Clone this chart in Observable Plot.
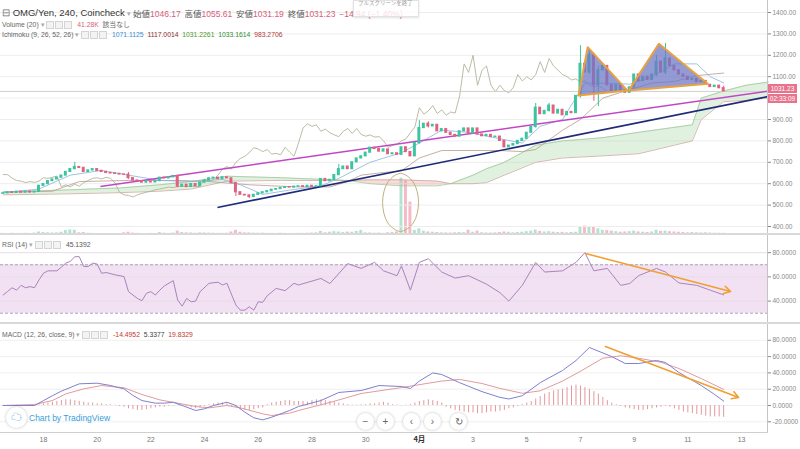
<!DOCTYPE html>
<html><head><meta charset="utf-8">
<script src="https://cdn.jsdelivr.net/npm/d3@7"></script>
<script src="https://cdn.jsdelivr.net/npm/@observablehq/plot@0.6"></script>
<style>
body{margin:0;background:#fff;font-family:"Liberation Sans",Arial,"Noto Sans CJK JP",sans-serif;}
#wrap{position:relative;width:800px;height:449px;overflow:hidden;background:#fff;}
.pane{position:absolute;left:0;}
.t{position:absolute;white-space:nowrap;line-height:1;}
.ib{display:inline-block;width:6px;height:6px;border:1px solid #d4d4d4;background:#f3f3f3;margin-right:1px;vertical-align:middle;}
.sep{position:absolute;left:0;width:800px;background:#d9d9d9;}
.nav{position:absolute;width:17px;height:17px;border-radius:50%;background:#fff;box-shadow:0 0 3px rgba(0,0,0,.25);color:#666;font-size:10px;text-align:center;line-height:17px;}
.plab{position:absolute;left:768px;width:29px;background:#e8738d;color:#fff;font-size:6.5px;text-align:center;line-height:9px;height:9px;overflow:hidden;}
</style></head><body><div id="wrap"></div>
<script>
// ---------------- data ----------------
const firstBarDay = 16.5;      // day (March) of first 4h candle
const barsPerDay = 6;
const firstOpen = 553;
const closes = [555,560,557,562,558,563,559,562,590,598,
612,620,628,638,655,668,678,674,655,662,
668,660,655,650,648,646,643,642,626,615,
612,605,610,606,612,628,625,630,636,586,
595,585,598,588,605,615,625,628,622,630,
625,603,560,548,545,538,548,555,560,565,
572,575,580,584,582,586,588,585,590,586,
588,622,612,618,640,668,680,668,700,718,
728,745,768,762,750,760,738,742,735,770,
748,728,790,860,880,868,875,845,855,838,
828,820,845,858,835,858,830,822,828,818,
820,800,770,778,785,800,810,838,865,955,
925,940,965,928,945,920,935,930,1010,1160,
1120,1200,1060,1130,1150,1060,1030,1060,1035,1025,
1050,1110,1080,1100,1085,1110,1170,1120,1185,1150,
1130,1110,1100,1085,1090,1075,1080,1062,1052,1058,
1046.17,1031.23];
const wickBar  = [16,28,39,52,55,75,93,95,119,122,129,131,132,133,146,148,161];
const wickHigh = [700,652,640,603,548,690,895,890,975,975,1245,1230,1210,1150,1200,1255,1055.61];
const wickLow  = [665,620,582,540,530,638,785,860,860,935,1000,1110,985,960,1100,1110,1031.19];
const volumes = [40,35,45,30,38,42,36,50,90,70,
60,55,60,80,140,160,150,60,70,45,
40,35,30,32,28,30,35,60,80,50,
40,35,30,38,35,70,45,38,50,120,
70,60,55,45,60,55,50,45,40,42,
45,90,150,80,60,55,50,45,48,40,
42,38,45,40,35,38,42,40,45,50,
60,110,60,80,100,90,70,85,80,110,
150,60,55,45,50,40,60,70,90,2000,
1900,1150,150,200,120,90,80,70,60,55,
50,60,70,65,150,80,120,60,55,50,
60,70,90,80,60,70,80,100,120,160,
110,90,100,80,70,75,60,70,80,250,
300,280,260,200,150,140,120,100,80,90,
100,120,90,80,70,90,150,110,120,100,
90,80,70,60,70,60,55,60,50,45,
45,41.28];
// Ichimoku (9, 26, 52, 26)
const tenkanBar = [0,8,15,22,28,35,42,49,53,58,64,71,75,82,89,93,98,104,111,116,120,125,130,135,140,145,150,155,158,161];
const tenkanVal = [558,575,640,662,640,615,610,620,595,550,570,590,625,700,745,790,850,840,810,790,868,900,1070,1070,1065,1100,1160,1160,1100,1071.11];
const kijunBar = [0,11,17,28,40,46,52,55,60,66,73,77,80,84,89,93,98,111,116,119,121,125,129,134,140,145,150,155,161];
const kijunVal = [560,565,610,615,615,610,600,595,590,585,585,610,640,650,660,720,755,755,750,760,790,850,900,1000,1040,1070,1078,1105,1117.0];
const cloudBar = [0,13,26,35,42,50,62,72,77,82,89,97,100,105,108,112,119,125,134,142,154,156,161,166,171];
const spanA = [562,570,580,595,610,635,628,620,615,600,590,590,600,640,670,700,780,800,815,840,875,1000,1033.16,1060,1075];
const spanB = [548,552,558,565,575,612,615,615,615,618,618,612,600,600,605,640,700,720,730,740,800,900,983.27,990,1000];
const laggingShift = 26;
// RSI (14)
const rsiBar = [0,1,2,3,4,5,6,7,8,9,10,12,13,14,15,16,17,18,19,20,21,22,23,25,27,28,29,30,31,32,33,34,35,36,38,39,40,41,42,43,44,46,48,49,50,52,53,54,55,56,57,58,59,61,63,65,66,71,73,77,80,83,85,88,89,91,93,95,98,101,104,108,111,113,116,119,121,125,128,130,132,135,138,140,142,146,148,151,155,158,161];
const rsiVal = [45,48,51,49,53,51,52,51,57.5,63,65,65,68,71.4,72.8,76.7,76.7,68.6,68.6,71.4,70.6,63,63.6,61.7,60.3,47.8,45,42.2,40.3,46.4,47.8,45,49,52.5,56.9,40.8,35.8,42.2,39.4,40,47.8,54.7,55.6,53.3,54.7,36.7,32.5,32.5,35.3,32.5,39.4,39,44.4,50.5,48.6,54.7,53.3,58.7,54.5,71,67,72,65,61,69,49,72,75,64,59,61,54,47,40,53,72,64,65,72,80,65,67,53,54.5,61,67,64,55,53,49,45.1392];
// MACD (12, 26, close, 9)
const macdBar = [0,7,9,11,13,17,21,24,27,29,31,34,36,38,40,43,45,47,50,52,54,56,58,60,64,66,71,75,80,84,89,91,93,96,98,102,107,111,113,116,120,125,128,131,136,139,142,146,148,151,156,159,161];
const macdVal = [0,0,6,12,17.6,26.6,27.4,24.5,20.4,12.3,6.1,2.9,2.9,4,0,-6.1,-4,0,4,0,-8.2,-15.1,-17.6,-14.3,-6.1,-1.2,6.1,16,18.4,24.5,23.3,20.9,30,40,38,28,17,10,8,12,28,43,55.2,71.2,60,51.5,51.5,55.2,52.8,40.5,24.5,13.5,5.3377];
const signalBar = [0,7,11,14,18,22,27,31,35,39,43,46,50,53,58,60,64,66,73,80,89,98,102,107,111,116,120,125,129,134,138,142,147,151,156,161];
const signalVal = [0,1.2,6.1,14.3,20.4,24.5,21.7,13.5,6.9,2.9,-1.2,-2.9,0,-2.9,-10.2,-12.3,-9.4,-6.1,3.7,14.7,22,30,32,27,21,15,18,30,42,58,61,58,53,45.4,33,19.8329];
const histVal = [0.3,0.3,0.4,0.3,0.5,0.4,0.3,0.5,0.8,
2,3,4,5,6,7,7,6,5,4,
3,3,2,2,1,1,0.5,
-1,-2,-4,-5,-6,-6,-5,-4,
-3,-2,-2,-1,
-0.5,0.5,0.5,-1,
-3,-4,-3,
-1,1,2,3,3,2,
-1,-3,-5,-6,-6,-5,-4,-3,
1,3,4,5,6,6,5,5,
5,4,6,7,7,6,5,4,3,
2,1,0.5,0.5,
1,1,2,2,
3,4,3,
1,0.5,-0.5,0.5,1,
3,5,6,7,6,5,3,
-2,-4,-6,-7,-8,-9,-9,-10,-10,-9,-8,-8,-7,-6,-4,-3,-1,
1,3,5,8,11,14,16,18,19,20,22,24,25,24,22,20,17,14,
10,6,3,1,-1,-3,-4,-5,-6,-6,-5,-4,-3,-2,
-1,-2,-4,-6,-8,-9,-10,-11,-12,-13,-14,-14,-14,-14.4952];
// axis ticks (1000.00 sits under the last-price labels)
const priceGrid = [400,500,600,700,800,900,1000,1100,1200,1300,1400];
const priceTicks = [400,500,600,700,800,900,1100,1200,1300,1400];
const rsiTicks = [40,60,80];
const macdTicks = [-20,0,20,40,60,80];
const dateTickDays = [18,20,22,24,26,28,30,32,34,36,38,40,42,44];
const dateTickLabels = ["18","20","22","24","26","28","30","4月","3","5","7","9","11","13"];
// drawings (day, value)
const magentaLine = {d1: 20.12, p1: 587, d2: 44.97, p2: 1032};
const navyLine = {d1: 24.48, p1: 489, d2: 44.97, p2: 1007};
const tri1Day = [37.93, 38.27, 39.74], tri1Price = [1012, 1238, 1036];
const tri2Day = [39.80, 40.92, 42.74], tri2Price = [1036, 1254, 1067];
const ellDay = [31.30, 31.77, 31.97, 31.77, 31.30, 30.83, 30.63, 30.83];
const ellPrice = [648, 608, 512, 416, 377, 416, 512, 608];
const rsiArrow = {d1: 38.19, v1: 79.3, d2: 43.59, v2: 47.9};
const macdArrow = {d1: 38.93, v1: 72.4, d2: 43.89, v2: 9.8};

// ---------------- build ----------------
const xDomain = [16.4, 16.4 + 767/26.85];
const barDay = i => firstBarDay + i / barsPerDay;
const candles = closes.map((c, i) => {
  const o = i === 0 ? firstOpen : closes[i - 1];
  return {day: barDay(i), open: o, close: c, up: c >= o, vol: volumes[i], hist: histVal[i]};
});
const wicks = wickBar.map((b, k) => ({day: barDay(b), hi: wickHigh[k], lo: wickLow[k], up: candles[b].up}));
const tenkan = tenkanBar.map((b, k) => ({day: barDay(b), v: tenkanVal[k]}));
const kijun = kijunBar.map((b, k) => ({day: barDay(b), v: kijunVal[k]}));
const cloud = cloudBar.map((b, k) => ({day: barDay(b), a: spanA[k], b: spanB[k], top: Math.max(spanA[k], spanB[k])}));
const lagging = closes.slice(laggingShift).map((c, k) => ({day: barDay(k), v: c}));
const rsi = rsiBar.map((b, k) => ({day: barDay(b), v: rsiVal[k]}));
const macd = macdBar.map((b, k) => ({day: barDay(b), v: macdVal[k]}));
const signal = signalBar.map((b, k) => ({day: barDay(b), v: signalVal[k]}));
const tri1 = tri1Day.map((d, k) => ({day: d, p: tri1Price[k]}));
const tri2 = tri2Day.map((d, k) => ({day: d, p: tri2Price[k]}));
const ell = ellDay.map((d, k) => ({day: d, p: ellPrice[k]}));
const dateTicks = dateTickDays.map((d, k) => ({day: d, label: dateTickLabels[k]}));

const UP = "#3cc4a0", DOWN = "#e0627f";
const FONT = "Liberation Sans, Arial, sans-serif";
const halfBody = 0.055;
const common = {width: 800, marginLeft: 0, marginRight: 33, marginTop: 0,
  style: {background: "none", fontFamily: FONT, overflow: "visible"}};
const axisOpts = (ticks, dec) => Plot.axisY(ticks, {anchor: "right", tickFormat: d => d.toFixed(dec),
  tickSize: 3, tickPadding: 2, fontSize: 6.5, color: "#888"});

const wrap = document.getElementById("wrap");
function place(node, top) {
  const d = document.createElement("div"); d.className = "pane"; d.style.top = top + "px";
  d.appendChild(node); wrap.appendChild(d); return d;
}

// volume layer (own scale)
const volPlot = Plot.plot({...common, height: 234, marginBottom: 0,
  x: {domain: xDomain, axis: null}, y: {domain: [0, 8300], axis: null},
  marks: [
    Plot.rect(candles, {x1: d => d.day - halfBody, x2: d => d.day + halfBody, y1: 0, y2: "vol",
      fill: d => d.up ? "#9fdcc6" : "#f2a9b8", fillOpacity: 0.8})
  ]});
place(volPlot, 0);

// price pane
const mainPlot = Plot.plot({...common, height: 234, marginBottom: 0,
  x: {domain: xDomain, axis: null}, y: {domain: [362.6, 1456.1], axis: null},
  marks: [
    Plot.ruleY(priceGrid, {stroke: "#ededed"}),
    Plot.areaY(cloud, {x: "day", y1: "b", y2: "top", fill: "#a5d6a7", fillOpacity: 0.35}),
    Plot.areaY(cloud, {x: "day", y1: "a", y2: "top", fill: "#ef9a9a", fillOpacity: 0.35}),
    Plot.line(cloud, {x: "day", y: "a", stroke: "#9fc79a", strokeWidth: 0.8}),
    Plot.line(cloud, {x: "day", y: "b", stroke: "#c9a89a", strokeWidth: 0.8}),
    Plot.line(lagging, {x: "day", y: "v", stroke: "#b4b39c", strokeWidth: 0.9}),
    Plot.line(kijun, {x: "day", y: "v", stroke: "#b69a8e", strokeWidth: 0.8}),
    Plot.line(tenkan, {x: "day", y: "v", stroke: "#86b4dc", strokeWidth: 0.8}),
    Plot.ruleY([closes[closes.length - 1]], {stroke: "#cfcfcf"}),
    Plot.link([magentaLine], {x1: "d1", y1: "p1", x2: "d2", y2: "p2", stroke: "#c048c4", strokeWidth: 1.6}),
    Plot.link([navyLine], {x1: "d1", y1: "p1", x2: "d2", y2: "p2", stroke: "#1f2a78", strokeWidth: 1.6}),
    Plot.ruleX(wicks, {x: "day", y1: "lo", y2: "hi", stroke: d => d.up ? UP : DOWN, strokeWidth: 1}),
    Plot.rect(candles, {x1: d => d.day - halfBody, x2: d => d.day + halfBody, y1: "open", y2: "close",
      fill: d => d.up ? UP : DOWN, insetTop: -0.6, insetBottom: -0.6}),
    Plot.line(tri1, {x: "day", y: "p", curve: "linear-closed", fill: "#6f78c6", fillOpacity: 0.75,
      stroke: "#e8a23e", strokeWidth: 2}),
    Plot.line(tri2, {x: "day", y: "p", curve: "linear-closed", fill: "#6f78c6", fillOpacity: 0.75,
      stroke: "#e8a23e", strokeWidth: 2}),
    Plot.line(ell, {x: "day", y: "p", curve: "catmull-rom-closed", stroke: "#c2b083", strokeWidth: 1}),
    Plot.ruleX([xDomain[1]], {stroke: "#c4c4c4"}),
    axisOpts(priceTicks, 2)
  ]});
place(mainPlot, 0);

// RSI pane
const rsiPlot = Plot.plot({...common, height: 87, marginBottom: 0,
  x: {domain: xDomain, axis: null}, y: {domain: [22.3, 94.2], axis: null},
  marks: [
    Plot.rect([{lo: 30, hi: 70}], {y1: "lo", y2: "hi", fill: "#f1e1f3"}),
    Plot.ruleY(rsiTicks, {stroke: "#e6dde8"}),
    Plot.ruleY([30, 70], {stroke: "#a9a2ac", strokeDasharray: "3,2"}),
    Plot.line(rsi, {x: "day", y: "v", stroke: "#a884bb", strokeWidth: 1}),
    Plot.arrow([rsiArrow], {x1: "d1", y1: "v1", x2: "d2", y2: "v2", stroke: "#f0a030", strokeWidth: 1.6, headLength: 7}),
    Plot.ruleX([xDomain[1]], {stroke: "#c4c4c4"}),
    axisOpts(rsiTicks, 4)
  ]});
place(rsiPlot, 235);

// MACD pane + time axis
const macdPlot = Plot.plot({...common, height: 126, marginBottom: 17,
  x: {domain: xDomain, axis: null}, y: {domain: [-33.1, 100.6], axis: null},
  marks: [
    Plot.ruleY(macdTicks, {stroke: "#efefef"}),
    Plot.ruleX(candles, {x: "day", y1: 0, y2: "hist", stroke: "#e3989c", strokeWidth: 1}),
    Plot.line(signal, {x: "day", y: "v", stroke: "#e39a9e", strokeWidth: 1}),
    Plot.line(macd, {x: "day", y: "v", stroke: "#7f80cf", strokeWidth: 1}),
    Plot.arrow([macdArrow], {x1: "d1", y1: "v1", x2: "d2", y2: "v2", stroke: "#f0a030", strokeWidth: 1.6, headLength: 7}),
    Plot.ruleX([xDomain[1]], {stroke: "#c4c4c4"}),
    Plot.frame({anchor: "bottom", stroke: "#cfcfcf"}),
    axisOpts(macdTicks, 4),
    Plot.text(dateTicks.filter(d => d.label !== "4月"), {x: "day", text: "label", frameAnchor: "bottom", dy: 9,
      fontSize: 7, fill: "#777"}),
    Plot.text(dateTicks.filter(d => d.label === "4月"), {x: "day", text: "label", frameAnchor: "bottom", dy: 9,
      fontSize: 7.5, fontWeight: "bold", fill: "#333", fontFamily: "Noto Sans CJK JP"})
  ]});
place(macdPlot, 323);

// separators
[[233, 2], [322, 1.5]].forEach(([t, h]) => {
  const s = document.createElement("div"); s.className = "sep"; s.style.top = t + "px"; s.style.height = h + "px"; wrap.appendChild(s);
});

// price labels on axis
const yLast = mainPlot.scale("y").apply(closes[closes.length - 1]);
wrap.insertAdjacentHTML("beforeend",
  `<div class="plab" style="top:${yLast - 7}px">1031.23</div><div class="plab" style="top:${yLast + 3}px">02:33:09</div>`);

// legends / header texts
wrap.insertAdjacentHTML("beforeend", `
<div class="t" style="left:2px;top:8px;font-size:9.5px;color:#333"><span style="color:#777">⊟</span> OMG/Yen, 240, Coincheck <span style="color:#aaa;font-size:7px">▾</span></div>
<div class="t" style="left:133px;top:9px;font-size:8.5px;color:#555;font-family:'Noto Sans CJK JP',sans-serif">始値<span style="color:#d9607a;font-family:'Liberation Sans'">1046.17</span>&nbsp;&nbsp;高値<span style="color:#d9607a;font-family:'Liberation Sans'">1055.61</span>&nbsp;&nbsp;安値<span style="color:#d9607a;font-family:'Liberation Sans'">1031.19</span>&nbsp;&nbsp;終値<span style="color:#d9607a;font-family:'Liberation Sans'">1031.23</span>&nbsp;&nbsp;<span style="color:#d9607a;font-family:'Liberation Sans'">−14.94 (−1.40%)</span></div>
<div class="t" style="left:353px;top:0px;width:66px;height:17px;background:rgba(255,255,255,0.8);border:1px solid #e2e2e2;box-shadow:0 1px 2px rgba(0,0,0,.12);box-sizing:border-box"></div>
<div class="t" style="left:358px;top:1px;font-size:5.5px;color:#9a9a9a;font-family:'Noto Sans CJK JP',sans-serif">フルスクリーンを終了</div>
<div class="t" style="left:2px;top:21px;font-size:6.8px;color:#666">Volume (20) <span style="color:#aaa">▾</span> <span class="ib"></span><span class="ib"></span><span class="ib"></span> &nbsp;<span style="color:#d9607a">41.28K</span> &nbsp;<span style="font-family:'Noto Sans CJK JP'">該当なし</span></div>
<div class="t" style="left:2px;top:31px;font-size:6.8px;color:#666">Ichimoku (9, 26, 52, 26) <span style="color:#aaa">▾</span> <span class="ib"></span><span class="ib"></span><span class="ib"></span> &nbsp;<span style="color:#3b8fd0">1071.1125</span> &nbsp;<span style="color:#8b2e2e">1117.0014</span> &nbsp;<span style="color:#4c9a2a">1031.2261</span> &nbsp;<span style="color:#2f8f2f">1033.1614</span> &nbsp;<span style="color:#b23a3a">983.2706</span></div>
<div class="t" style="left:2px;top:241px;font-size:6.8px;color:#666">RSI (14) <span style="color:#aaa">▾</span> <span class="ib"></span><span class="ib"></span><span class="ib"></span> &nbsp;<span style="color:#555">45.1392</span></div>
<div class="t" style="left:2px;top:331px;font-size:6.8px;color:#666">MACD (12, 26, close, 9) <span style="color:#aaa">▾</span> <span class="ib"></span><span class="ib"></span><span class="ib"></span> &nbsp;<span style="color:#c0392b">-14.4952</span> &nbsp;<span style="color:#444">5.3377</span> &nbsp;<span style="color:#c0392b">19.8329</span></div>
<div class="t" style="left:6px;top:407px;width:21px;height:21px;border-radius:50%;background:#fff;box-shadow:0 0 3px rgba(0,0,0,.25);color:#3aa0d8;font-size:11px;text-align:center;line-height:21px">☁</div>
<div class="t" style="left:29px;top:414px;font-size:8.5px;color:#3aa0d8">Chart by TradingView</div>
<div class="nav" style="left:357px;top:413px">−</div>
<div class="nav" style="left:377px;top:413px">+</div>
<div class="nav" style="left:403px;top:413px">‹</div>
<div class="nav" style="left:424px;top:413px">›</div>
<div class="nav" style="left:450px;top:413px">↻</div>
`);
</script></body></html>
